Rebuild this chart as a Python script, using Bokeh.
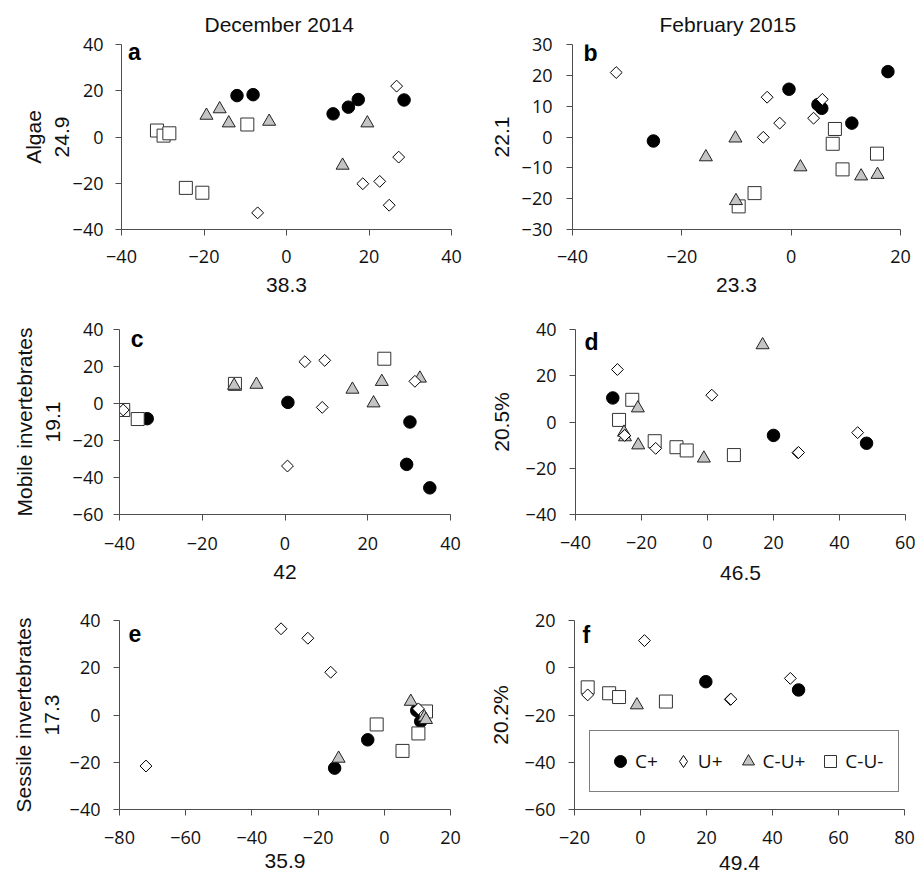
import math
from bokeh.plotting import figure
from bokeh.models import Range1d, FixedTicker, Label, Legend, LegendItem
from bokeh.layouts import column, row
from bokeh.embed import file_html
from bokeh.resources import INLINE

# ---------------- data ----------------
# Groups: CP = C+, UP = U+, CUP = C-U+, CUM = C-U-
A_CP_X = [-12.0, -8.1, 11.3, 15.0, 17.4, 28.5]
A_CP_Y = [17.9, 18.3, 10.0, 12.9, 16.2, 16.0]
A_UP_X = [26.7, 27.2, 18.5, 22.6, 24.9, -7.0]
A_UP_Y = [22.0, -8.7, -20.2, -19.2, -29.5, -32.8]
A_CUP_X = [-19.4, -16.2, -14.0, -4.2, 19.6, 13.6]
A_CUP_Y = [9.3, 12.1, 6.0, 6.7, 6.0, -12.3]
A_CUM_X = [-31.4, -29.8, -28.4, -9.5, -24.4, -20.4]
A_CUM_Y = [2.8, 0.6, 1.6, 5.4, -22.0, -24.1]

B_CP_X = [-25.2, -0.4, 4.9, 5.6, 11.1, 17.7]
B_CP_Y = [-1.3, 15.5, 10.5, 9.3, 4.5, 21.2]
B_UP_X = [-32.0, -4.4, 5.7, -2.1, 4.1, -5.1]
B_UP_Y = [20.9, 12.9, 12.2, 4.5, 6.1, -0.1]
B_CUP_X = [-10.2, -15.6, -10.1, 1.7, 12.8, 15.8]
B_CUP_Y = [-0.4, -6.5, -20.7, -9.75, -12.7, -12.2]
B_CUM_X = [8.0, 7.6, 15.7, 9.4, -6.7, -9.6]
B_CUM_Y = [2.6, -2.2, -5.4, -10.5, -18.2, -22.5]

C_CP_X = [-33.3, 0.7, 30.2, 29.4, 35.0]
C_CP_Y = [-8.2, 0.6, -10.0, -32.9, -45.6]
C_UP_X = [-39.1, 4.8, 9.6, 9.0, 0.6, 31.4]
C_UP_Y = [-3.5, 22.6, 23.3, -2.1, -33.8, 12.0]
C_CUP_X = [-12.3, -6.9, 16.3, 23.4, 21.4, 32.6]
C_CUP_Y = [9.7, 10.25, 7.6, 11.8, 0.2, 13.6]
C_CUM_X = [-12.1, -39.1, -35.6, 24.0]
C_CUM_Y = [10.6, -3.5, -8.4, 24.2]

D_CP_X = [-28.7, 20.0, 48.2]
D_CP_Y = [10.4, -5.8, -9.2]
D_UP_X = [-27.3, 1.3, 45.5, 27.4, 27.6, -25.1, -15.7]
D_UP_Y = [22.7, 11.6, -4.6, -13.3, -13.2, -5.8, -11.4]
D_CUP_X = [16.7, -21.1, -25.3, -25.0, -21.0, -1.1]
D_CUP_Y = [33.3, 6.0, -4.5, -6.5, -10.0, -15.7]
D_CUM_X = [-22.8, -26.8, -16.0, -9.4, -6.3, 8.0]
D_CUM_Y = [9.6, 0.9, -8.3, -10.9, -12.3, -14.3]

E_CP_X = [-15.0, -5.0, 9.8, 11.0]
E_CP_Y = [-22.5, -10.5, 1.9, -2.7]
E_UP_X = [-72.0, -31.2, -23.1, -16.2, 10.3]
E_UP_Y = [-21.6, 36.5, 32.5, 18.1, 2.6]
E_CUP_X = [-13.8, 8.0, 12.1, 12.6]
E_CUP_Y = [-18.4, 5.7, -0.9, -2.0]
E_CUM_X = [-2.3, 5.5, 10.3, 12.6]
E_CUM_Y = [-4.0, -15.2, -7.8, 1.5]

F_CP_X = [19.8, 47.9]
F_CP_Y = [-5.9, -9.4]
F_UP_X = [1.2, 45.4, 27.2, 27.4, -16.0]
F_UP_Y = [11.5, -4.5, -13.4, -13.3, -11.5]
F_CUP_X = [-1.1]
F_CUP_Y = [-15.8]
F_CUM_X = [-16.0, -9.5, -6.5, 7.7]
F_CUM_Y = [-8.3, -10.8, -12.4, -14.3]

GROUP_LABELS = ["C+", "U+", "C-U+", "C-U-"]
COLUMN_TITLES = ["December 2014", "February 2015"]
PANEL_LETTERS = ["a", "b", "c", "d", "e", "f"]
Y_TITLES = ["Algae\n24.9", "22.1", "Mobile invertebrates\n19.1", "20.5%",
            "Sessile invertebrates\n17.3", "20.2%"]
X_TITLES = ["38.3", "23.3", "42", "46.5", "35.9", "49.4"]
X_TICKS = [[-40, -20, 0, 20, 40], [-40, -20, 0, 20], [-40, -20, 0, 20, 40],
           [-40, -20, 0, 20, 40, 60], [-80, -60, -40, -20, 0, 20], [-20, 0, 20, 40, 60, 80]]
Y_TICKS = [[-40, -20, 0, 20, 40], [-30, -20, -10, 0, 10, 20, 30], [-60, -40, -20, 0, 20, 40],
           [-40, -20, 0, 20, 40], [-40, -20, 0, 20, 40], [-60, -40, -20, 0, 20]]

PANEL_DATA = [
    (A_CP_X, A_CP_Y, A_UP_X, A_UP_Y, A_CUP_X, A_CUP_Y, A_CUM_X, A_CUM_Y),
    (B_CP_X, B_CP_Y, B_UP_X, B_UP_Y, B_CUP_X, B_CUP_Y, B_CUM_X, B_CUM_Y),
    (C_CP_X, C_CP_Y, C_UP_X, C_UP_Y, C_CUP_X, C_CUP_Y, C_CUM_X, C_CUM_Y),
    (D_CP_X, D_CP_Y, D_UP_X, D_UP_Y, D_CUP_X, D_CUP_Y, D_CUM_X, D_CUM_Y),
    (E_CP_X, E_CP_Y, E_UP_X, E_UP_Y, E_CUP_X, E_CUP_Y, E_CUM_X, E_CUM_Y),
    (F_CP_X, F_CP_Y, F_UP_X, F_UP_Y, F_CUP_X, F_CUP_Y, F_CUM_X, F_CUM_Y),
]

# ---------------- layout / style ----------------
TICK_FONT = "Open Sans"
TITLE_FONT = "Liberation Sans"
AXIS_COLOR = "#4d4d4d"

# width, height, (left, right, top, bottom) borders, y tick standoff, x tick standoff,
# x label standoff, y label standoff
GEOM = [
    (465, 297, (121, 14, 44, 68), 12, 14, 12, -3),
    (450, 297, (107, 15, 44, 68), 14, 14, 12, 10),
    (465, 288, (119, 15, 31, 71), 10, 16, 12, 6),
    (450, 288, (110, 10, 32, 71), 13, 15, 14, 10),
    (465, 289, (119, 15, 34, 64), 13, 15, 7, 4),
    (450, 289, (109, 11, 35, 65), 13, 15, 9, 10),
]
LETTER_POS = [(-38.4, 36.8), (-38.0, 27.4), (-37.3, 34.7), (-37.3, 34.5), (-77.3, 34.6), (-17.6, 14.0)]
TITLE_OFFSET = [83, 87]


def make_panel(i):
    w, h, (bl, br, bt, bb), ytsd, xtsd, xlsd, ylsd = GEOM[i]
    xt, yt = X_TICKS[i], Y_TICKS[i]
    p = figure(width=w, height=h, output_backend="svg", toolbar_location=None,
               x_range=Range1d(xt[0], xt[-1]), y_range=Range1d(yt[0], yt[-1]),
               min_border_left=bl, min_border_right=br, min_border_top=bt,
               min_border_bottom=bb, outline_line_color=None,
               background_fill_color="white", border_fill_color="white")
    if i < 2:
        p.title.text = COLUMN_TITLES[i]
        p.title.align = "left"
        p.title.offset = TITLE_OFFSET[i]
        p.title.text_font = TITLE_FONT
        p.title.text_font_size = "21px"
        p.title.text_font_style = "normal"
        p.title.text_color = "#111111"
        p.title.standoff = 17
    p.xgrid.visible = False
    p.ygrid.visible = False
    p.xaxis.ticker = FixedTicker(ticks=xt)
    p.yaxis.ticker = FixedTicker(ticks=yt)
    for ax in (p.xaxis[0], p.yaxis[0]):
        ax.axis_line_color = AXIS_COLOR
        ax.axis_line_width = 1
        ax.major_tick_line_color = AXIS_COLOR
        ax.major_tick_out = 6
        ax.major_tick_in = 0
        ax.minor_tick_line_color = None
        ax.major_label_text_font = TICK_FONT
        ax.major_label_text_font_size = "18px"
        ax.major_label_text_color = "#111111"
        ax.axis_label_text_font = TITLE_FONT
        ax.axis_label_text_font_size = "21px"
        ax.axis_label_text_font_style = "normal"
        ax.axis_label_text_color = "#111111"
    p.xaxis.axis_label = X_TITLES[i]
    p.yaxis.axis_label = Y_TITLES[i]
    p.xaxis.major_label_standoff = xtsd
    p.yaxis.major_label_standoff = ytsd
    p.xaxis.axis_label_standoff = xlsd
    p.yaxis.axis_label_standoff = ylsd

    cpx, cpy, upx, upy, cupx, cupy, cumx, cumy = PANEL_DATA[i]
    r_cp = p.scatter(cpx, cpy, marker="circle", size=12.5, fill_color="black", line_color="black")
    r_cum = p.scatter(cumx, cumy, marker="square", size=13, fill_color="white",
                      line_color="#333333", line_width=1)
    r_cup = p.scatter(cupx, cupy, marker="triangle", size=13, fill_color="#C4C4C4",
                      line_color="#222222", line_width=1)
    r_up = p.scatter(upx, upy, marker="square", size=8.4, angle=math.pi / 4, fill_color="white",
                     line_color="black", line_width=1)

    lx, ly = LETTER_POS[i]
    p.add_layout(Label(x=lx, y=ly, text=PANEL_LETTERS[i], text_font=TITLE_FONT,
                       text_font_style="bold", text_font_size="23px", text_color="black",
                       text_baseline="alphabetic"))
    return p, (r_cp, r_up, r_cup, r_cum)


panels = []
for i in range(6):
    panels.append(make_panel(i))

pf, rends = panels[5]
# legend-only renderer for the open diamond (legend glyphs are drawn unrotated); NaN => not drawn in plot
r_up_key = pf.scatter(x=[float("nan")], y=[float("nan")], marker="diamond", size=12,
                      fill_color="white", line_color="black", line_width=1)
legend_rends = [rends[0], r_up_key, rends[2], rends[3]]
legend = Legend(items=[LegendItem(label=lab, renderers=[r]) for lab, r in zip(GROUP_LABELS, legend_rends)],
                location=(15, 17), orientation="horizontal",
                border_line_color="black", border_line_width=1.3,
                background_fill_color="white", background_fill_alpha=1.0,
                label_text_font=TICK_FONT, label_text_font_size="19px",
                label_text_color="#111111",
                glyph_width=30, glyph_height=30, label_standoff=-4, spacing=10,
                padding=15, margin=0)
pf.add_layout(legend)

layout = column(row(panels[0][0], panels[1][0]),
                row(panels[2][0], panels[3][0]),
                row(panels[4][0], panels[5][0]))

open("out.html", "w").write(file_html(layout, INLINE))
